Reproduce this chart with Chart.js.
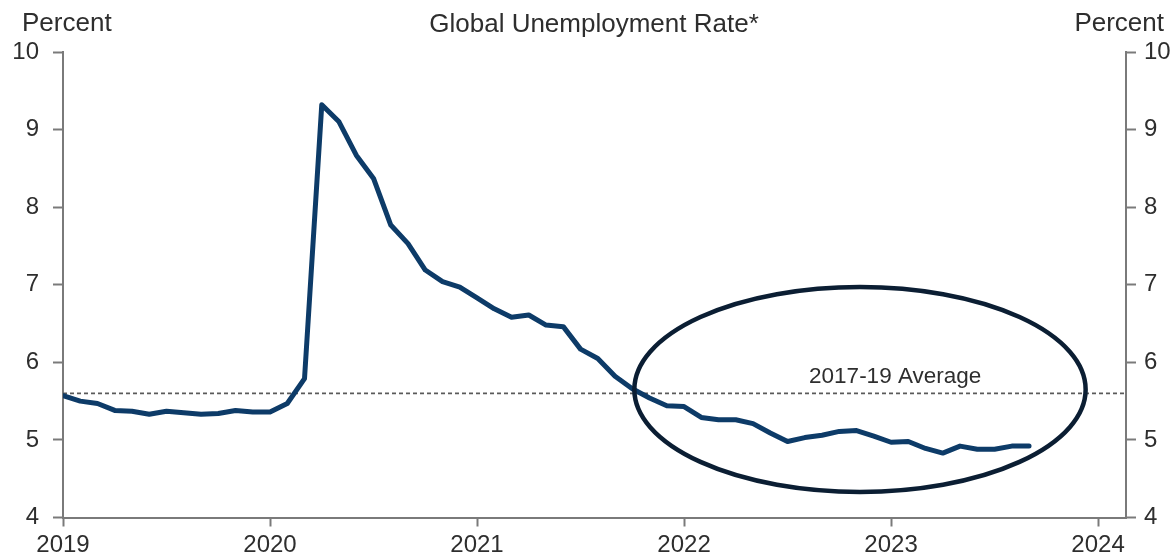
<!DOCTYPE html>
<html>
<head>
<meta charset="utf-8">
<script src="https://cdn.jsdelivr.net/npm/chart.js@4.4.1/dist/chart.umd.min.js"></script>
<style>
  html, body { margin: 0; padding: 0; background: #ffffff; }
  #wrap { width: 1171px; height: 560px; position: relative; }
</style>
</head>
<body>
<div id="wrap"><canvas id="chart" width="1171" height="560"></canvas></div>
<script>
// Global unemployment rate, monthly, Jan 2019 – Sep 2023 (percent)
const startYear = 2019;
const rate2019 = [5.57, 5.50, 5.47, 5.38, 5.37, 5.33, 5.37, 5.35, 5.33, 5.34, 5.38, 5.36];
const rate2020 = [5.36, 5.47, 5.79, 9.32, 9.10, 8.67, 8.37, 7.77, 7.53, 7.19, 7.04, 6.97];
const rate2021 = [6.83, 6.69, 6.58, 6.61, 6.48, 6.46, 6.17, 6.05, 5.82, 5.66, 5.54, 5.44];
const rate2022 = [5.43, 5.29, 5.26, 5.26, 5.21, 5.09, 4.98, 5.03, 5.06, 5.11, 5.12, 5.05];
const rate2023 = [4.97, 4.98, 4.89, 4.83, 4.92, 4.88, 4.88, 4.92, 4.92];

// 2017-19 average reference level
const averageLevel = 5.6;
const averageLabel = '2017-19 Average';

// Axis ticks
const yearTicks = [2019, 2020, 2021, 2022, 2023, 2024];
const percentTicks = [4, 5, 6, 7, 8, 9, 10];
const xRange = [2019, 2024.135];
const yRange = [4, 10];

// Highlighted recent period (data units)
const highlight = { xMin: 2021.76, xMax: 2023.94, yMin: 4.33, yMax: 6.97 };

const titleText = 'Global Unemployment Rate*';
const unitText = 'Percent';

const monthly = [].concat(rate2019, rate2020, rate2021, rate2022, rate2023);
const series = monthly.map((v, i) => ({ x: startYear + i / 12, y: v }));

const FONT = '"Liberation Sans", Arial, Helvetica, sans-serif';
const TEXT = '#2e2e2e';
const AXIS = '#7a7a7a';

const overlay = {
  id: 'overlay',
  afterDatasetsDraw(chart) {
    const { ctx } = chart;
    const xs = chart.scales.x, ys = chart.scales.y;
    // ellipse around the recent period
    const x1 = xs.getPixelForValue(highlight.xMin), x2 = xs.getPixelForValue(highlight.xMax);
    const y1 = ys.getPixelForValue(highlight.yMax), y2 = ys.getPixelForValue(highlight.yMin);
    ctx.save();
    ctx.beginPath();
    ctx.ellipse((x1 + x2) / 2, (y1 + y2) / 2, (x2 - x1) / 2, (y2 - y1) / 2, 0, 0, Math.PI * 2);
    ctx.lineWidth = 4.5;
    ctx.strokeStyle = '#0b1e33';
    ctx.stroke();
    // average label
    ctx.fillStyle = TEXT;
    ctx.font = '22.5px ' + FONT;
    ctx.textAlign = 'center';
    ctx.textBaseline = 'alphabetic';
    ctx.fillText(averageLabel, xs.getPixelForValue(2023.02), ys.getPixelForValue(averageLevel) - 10);
    ctx.restore();
  },
  afterDraw(chart) {
    const { ctx } = chart;
    ctx.save();
    ctx.fillStyle = TEXT;
    ctx.font = '26px ' + FONT;
    ctx.textBaseline = 'alphabetic';
    ctx.textAlign = 'left';
    ctx.fillText(unitText, 22, 31);
    ctx.textAlign = 'right';
    ctx.fillText(unitText, 1164, 31);
    ctx.textAlign = 'center';
    ctx.fillText(titleText, 594, 32);
    ctx.restore();
  }
};

const tickFont = { family: FONT, size: 24 };

new Chart(document.getElementById('chart'), {
  type: 'line',
  data: {
    datasets: [
      {
        data: series,
        borderColor: '#0d3b68',
        borderWidth: 5,
        pointRadius: 0,
        tension: 0,
        borderJoinStyle: 'round',
        borderCapStyle: 'round',
        order: 1
      },
      {
        data: [{ x: xRange[0], y: averageLevel }, { x: xRange[1], y: averageLevel }],
        borderColor: '#5a5a5a',
        borderWidth: 1.8,
        borderDash: [4, 3],
        pointRadius: 0,
        order: 2
      }
    ]
  },
  options: {
    responsive: false,
    animation: false,
    events: [],
    layout: { padding: { top: 52, left: 0, right: 0, bottom: 0 } },
    plugins: { legend: { display: false }, tooltip: { enabled: false }, title: { display: false } },
    scales: {
      x: {
        type: 'linear',
        min: xRange[0],
        max: xRange[1],
        afterBuildTicks: s => { s.ticks = yearTicks.map(v => ({ value: v })); },
        afterFit: s => { s.height = 42.5; },
        border: { display: true, color: AXIS, width: 2 },
        grid: { display: true, drawOnChartArea: false, drawTicks: true, tickLength: 9, tickWidth: 2, tickColor: AXIS },
        ticks: { font: tickFont, color: TEXT, padding: 4, maxRotation: 0, autoSkip: false, callback: v => String(v) }
      },
      y: {
        position: 'left',
        min: yRange[0],
        max: yRange[1],
        afterBuildTicks: s => { s.ticks = percentTicks.map(v => ({ value: v })); },
        afterFit: s => { s.width = 63; },
        border: { display: true, color: AXIS, width: 2 },
        grid: { display: true, drawOnChartArea: false, drawTicks: true, tickLength: 10, tickWidth: 2, tickColor: AXIS },
        ticks: { font: tickFont, color: TEXT, padding: 14, callback: v => String(v) }
      },
      y2: {
        position: 'right',
        min: yRange[0],
        max: yRange[1],
        afterBuildTicks: s => { s.ticks = percentTicks.map(v => ({ value: v })); },
        afterFit: s => { s.width = 45; },
        border: { display: true, color: AXIS, width: 2 },
        grid: { display: true, drawOnChartArea: false, drawTicks: true, tickLength: 10, tickWidth: 2, tickColor: AXIS },
        ticks: { font: tickFont, color: TEXT, padding: 8, callback: v => String(v) }
      }
    }
  },
  plugins: [overlay]
});
</script>
</body>
</html>
